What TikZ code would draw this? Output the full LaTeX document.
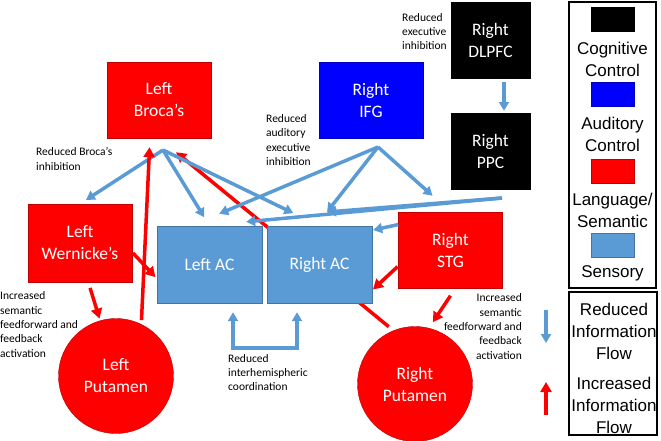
\documentclass[tikz,border=0pt]{standalone}
\usepackage{fontspec}
\setmainfont{Carlito}
\newfontfamily\legfont{Liberation Sans}
\usetikzlibrary{arrows.meta,backgrounds}
\definecolor{sens}{HTML}{5B9BD5}
\definecolor{aud}{HTML}{0000FF}
\definecolor{lang}{HTML}{FF0000}
\tikzset{every node/.style={inner sep=0pt,align=center}}
\tikzset{area/.style={rectangle,fill=#1,draw=#1!75!black,text=white,minimum width=104pt,minimum height=76pt,font=\fontsize{17.5}{22}\selectfont}}
\tikzset{nucleus/.style={circle,fill=lang,draw=lang!75!black,text=white,minimum size=115pt,font=\fontsize{17.5}{22}\selectfont}}
\tikzset{note/.style={font=\fontsize{11.5}{14.3}\selectfont}}
\tikzset{legtext/.style={font=\legfont\fontsize{17}{22}\selectfont}}
\tikzset{swatch/.style={rectangle,fill=#1,draw=#1!75!black,minimum width=43pt,minimum height=24pt}}
\tikzset{less/.style={draw=sens,line width=3.5pt,-{Triangle[length=9pt,width=10pt]}}}
\tikzset{more/.style={draw=lang,line width=3.5pt,-{Triangle[length=10pt,width=11pt]}}}

\begin{document}
\begin{tikzpicture}[x=1pt,y=-1pt]
      \useasboundingbox (0,0) rectangle (661,440);
      \node[area=lang] (LB) at (159,100) {Left\\Broca’s};
      \node[area=aud] (RIFG) at (371,100) {Right\\IFG};
      \node[area=black,minimum width=79pt] (RDL) at (490.5,40) {Right\\DLPFC};
      \node[area=black,minimum width=79pt] (RPPC) at (490.5,151) {Right\\PPC};
      \node[area=lang,minimum height=78pt] (LW) at (80,243) {Left\\Wernicke’s};
      \node[area=sens,minimum width=105pt,minimum height=77pt] (LAC) at (209.5,264.5) {Left AC};
      \node[area=sens,minimum width=105pt,minimum height=77pt] (RAC) at (319.5,264.5) {Right AC};
      \node[area=lang] (RSTG) at (450.5,250) {Right\\STG};
      \node[nucleus] (LP) at (116,376) {Left\\Putamen};
      \node[nucleus] (RP) at (415,384) {Right\\Putamen};
      % meeting points of the arrows
      \coordinate (BT) at (163,150);
      \coordinate (IT) at (378,147);
      \coordinate (PT) at (502,198);
      \coordinate (M) at (327,212);
      \draw[less,shorten >=7pt] (BT) -- (LW.north);
      \draw[less,shorten >=10pt] (BT) -- (LAC.north);
      \draw[less,shorten >=29pt] (BT) -- (RAC.north);
      \draw[less,shorten >=31pt] (IT) -- (LAC.116);
      \draw[less] (IT) -- (M);
      \draw[less,shorten >=24pt] (IT) -- (RSTG.north);
      \draw[less,shorten >=43pt] (PT) -- (LAC.99);
      \draw[less] (PT) -- (M);
      \draw[less,shorten >=1pt] (RSTG.154) -- (RAC.33);
      \draw[less,shorten <=4pt,shorten >=2pt] ([xshift=13.5pt]RDL.south) -- ([xshift=13.5pt]RPPC.north);
      \draw[less,{Triangle[length=9pt,width=10pt]}-{Triangle[length=9pt,width=10pt]}] ([xshift=23.5pt,yshift=-9pt]LAC.south) -- ++(0,36) -| ([xshift=-22.5pt,yshift=-9pt]RAC.south);
      \begin{scope}[on background layer]
        \draw[more,shorten <=6pt,shorten >=22pt] (RP.112) -- (LB.south);
      \end{scope}
      \draw[more,shorten <=4pt,shorten >=9pt] (LP.64) -- ([xshift=-9pt]LB.south);
      \draw[more,shorten <=1pt,shorten >=2pt] (LW.-10) -- (LAC.195);
      \draw[more,shorten <=6pt,shorten >=2pt] (LW.-78) -- (LP.106);
      \draw[more,shorten <=1pt,shorten >=1pt] (RSTG.197) -- (RAC.-26);
      \draw[more,shorten <=9pt,shorten >=7pt] ([xshift=5pt]RSTG.south) -- (RP.76);
      \node[note,align=left,anchor=west] (N1) at (402,31.5) {Reduced\\executive\\inhibition};
      \node[note,align=left,anchor=west] (N2) at (36,159) {Reduced Broca’s\\inhibition};
      \node[note,align=left,anchor=west] (N3) at (266,140) {Reduced\\auditory\\executive\\inhibition};
      \node[note,align=left,anchor=west] (N4) at (0,324.5) {Increased\\semantic\\feedforward and\\feedback\\activation};
      \node[note,align=right,anchor=east] (N5) at (522,326.5) {Increased\\semantic\\feedforward and\\feedback\\activation};
      \node[note,align=left,anchor=west] (N6) at (228,372.5) {Reduced\\interhemispheric\\coordination};
      % legend
      \draw[line width=2pt] (569,2) rectangle (656,288);
      \node[swatch=black] (K1) at (612.5,19) {};
      \node[legtext] (T1) at (612.5,59) {Cognitive\\Control};
      \node[swatch=aud] (K2) at (612.5,94) {};
      \node[legtext] (T2) at (612.5,134) {Auditory\\Control};
      \node[swatch=lang] (K3) at (612.5,171) {};
      \node[legtext] (T3) at (612.5,210) {Language/\\Semantic};
      \node[swatch=sens] (K4) at (612.5,245.5) {};
      \node[legtext] (T4) at (612.5,273) {Sensory};
      \draw[line width=2pt] (569,292) rectangle (657,435);
      \node[legtext] (F1) at (614,331) {Reduced\\Information\\Flow};
      \node[legtext] (F2) at (614,405) {Increased\\Information\\Flow};
      \coordinate (D1) at (546,310);
      \coordinate (D2) at (546,343);
      \coordinate (U1) at (546,415);
      \coordinate (U2) at (546,382);
      \draw[less] (D1) -- (D2);
      \draw[more] (U1) -- (U2);
\end{tikzpicture}
\end{document}
